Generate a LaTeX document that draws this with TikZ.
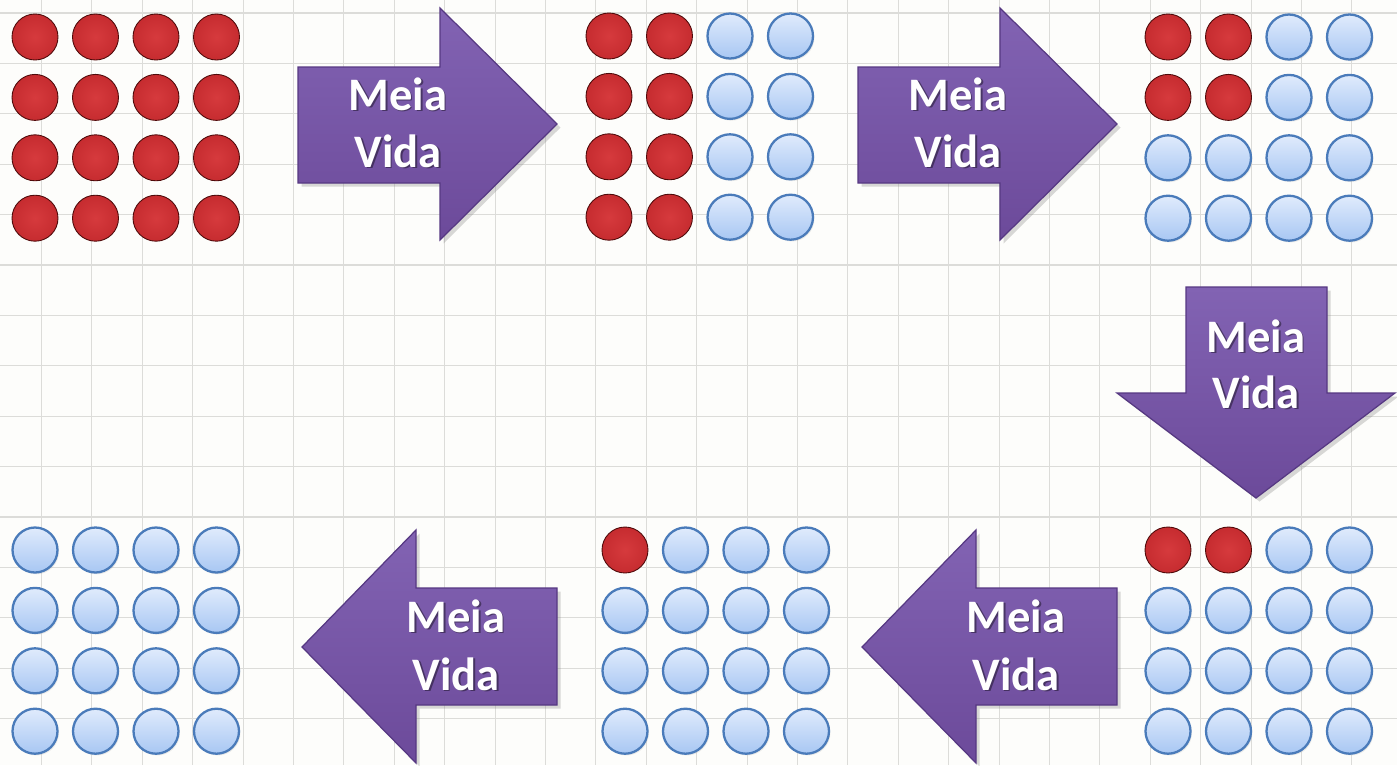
\documentclass[tikz,border=0pt]{standalone}
\usepackage{fontspec}
\setmainfont{Carlito}
\usetikzlibrary{shadows}
\definecolor{bgc}{HTML}{FDFDFB}
\definecolor{gridc}{HTML}{DCDCD9}
\definecolor{rIn}{HTML}{D63A3D}
\definecolor{rMid}{HTML}{C42A2E}
\definecolor{rOut}{HTML}{7A1214}
\definecolor{rEdge}{HTML}{4F0A0A}
\definecolor{bTop}{HTML}{E0EBFC}
\definecolor{bBot}{HTML}{A8C7F3}
\definecolor{bEdge}{HTML}{4A7BBA}
\definecolor{aTop}{HTML}{8263B3}
\definecolor{aBot}{HTML}{6C4A9A}
\definecolor{aEdge}{HTML}{563882}
\pgfdeclareradialshading{redballsh}{\pgfpoint{0bp}{0bp}}{color(0bp)=(rIn); color(28bp)=(rMid); color(44bp)=(rOut); color(50bp)=(rOut)}
\tikzset{
  redball/.style={circle, minimum size=0.92cm, inner sep=0pt, draw=rEdge, line width=0.5pt, shading=redballsh},
  blueball/.style={circle, minimum size=0.9cm, inner sep=0pt, draw=bEdge, line width=1.3pt, top color=bTop, bottom color=bBot,
     drop shadow={opacity=0.15, shadow xshift=0.8pt, shadow yshift=-1pt}},
  bigarrow/.style={top color=aTop, bottom color=aBot, draw=aEdge, line width=0.7pt, line join=miter,
     drop shadow={opacity=0.3, shadow xshift=2pt, shadow yshift=-2pt}},
  lbl/.style={text=white, font=\bfseries\fontsize{26.5}{30}\selectfont, inner sep=0pt, anchor=base},
  lblsh/.style={text=black, opacity=0.4, font=\bfseries\fontsize{26.5}{30}\selectfont, inner sep=0pt, anchor=base},
  gridline/.style={draw=gridc, line width=0.6pt}
}
\newcommand\ballgroup[4]{%
  \foreach \nr [count=\ri from 0] in {#4}{%
    \foreach \ci in {0,...,3}{%
      \ifnum\ci<\nr\relax \def\bsty{redball}\else\def\bsty{blueball}\fi
      \node[\bsty] (#1-\ri-\ci) at ({#2+60.5*\ci},{#3+60.4*\ri}) {};
    }%
  }%
}
\newcommand\meiavida[4]{% name, x, baseline1, baseline2
  \node[lblsh] (#1-ash) at ({#2+1.5},{#3+1.5}) {Meia};
  \node[lblsh] (#1-bsh) at ({#2+1.5},{#4+1.5}) {Vida};
  \node[lbl] (#1-a) at (#2,#3) {Meia};
  \node[lbl] (#1-b) at (#2,#4) {Vida};
}
\begin{document}
\begin{tikzpicture}[x={(0.02cm,0)}, y={(0,-0.02cm)}]
\useasboundingbox (0,0) rectangle (1397,765);
\fill[bgc] (0,0) rectangle (1397,765);
\begin{scope}
\clip (0,0) rectangle (1397,765);
\foreach \i in {0,...,27} \draw[gridline] ({41.5+50.4*\i},0) -- ({41.5+50.4*\i},765);
\foreach \i in {0,...,15} \draw[gridline] (0,{13+50.4*\i}) -- (1397,{13+50.4*\i});
\end{scope}

% ball groups
\ballgroup{g1}{35}{37}{4,4,4,4}
\ballgroup{g2}{609}{36}{2,2,2,2}
\ballgroup{g3}{1168}{37}{2,2,0,0}
\ballgroup{g4}{1168}{550}{2,0,0,0}
\ballgroup{g5}{625}{550}{1,0,0,0}
\ballgroup{g6}{35}{550}{0,0,0,0}

% arrows
\shade[bigarrow] (298,67) -- (440,67) -- (440,8) -- (557,124) -- (440,240) -- (440,183) -- (298,183) -- cycle;
\shade[bigarrow] (858,67) -- (1000,67) -- (1000,8) -- (1117,124) -- (1000,240) -- (1000,183) -- (858,183) -- cycle;
\shade[bigarrow] (1186,287) -- (1327,287) -- (1327,393) -- (1395,393) -- (1256,498) -- (1117,393) -- (1186,393) -- cycle;
\shade[bigarrow] (1117,588) -- (976,588) -- (976,530) -- (862,647) -- (976,763) -- (976,705) -- (1117,705) -- cycle;
\shade[bigarrow] (557,588) -- (416,588) -- (416,530) -- (302,647) -- (416,763) -- (416,705) -- (557,705) -- cycle;

% labels
\meiavida{t1}{398}{110}{167}
\meiavida{t2}{958}{110}{167}
\meiavida{t3}{1256}{352}{408}
\meiavida{t4}{1016}{632}{690}
\meiavida{t5}{456}{632}{690}
\end{tikzpicture}
\end{document}
